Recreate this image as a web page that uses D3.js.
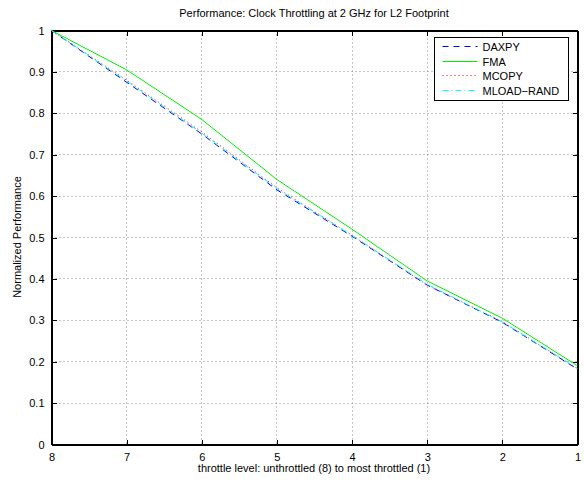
<!DOCTYPE html>
<html>
<head>
<meta charset="utf-8">
<script src="https://cdn.jsdelivr.net/npm/d3@7"></script>
<style>
body { margin: 0; background: #fff; }
text { font-family: "Liberation Sans", Arial, sans-serif; }
</style>
</head>
<body>
<div id="chart-area"></div>
<script>
var levels = [8, 7, 6, 5, 4, 3, 2, 1];
var daxpy = [1, 0.875, 0.75, 0.615, 0.503, 0.385, 0.295, 0.182];
var fma = [1, 0.905, 0.785, 0.64, 0.52, 0.395, 0.305, 0.19];
var mcopy = [1, 0.88, 0.755, 0.62, 0.505, 0.385, 0.297, 0.183];
var mloadRand = [1, 0.878, 0.752, 0.618, 0.505, 0.387, 0.296, 0.184];
var yTicks = [0, 0.1, 0.2, 0.3, 0.4, 0.5, 0.6, 0.7, 0.8, 0.9, 1];

var series = [
    { name: "DAXPY", values: daxpy, color: "#0000ff", dash: "6,5" },
    { name: "FMA", values: fma, color: "#00ee00", dash: null },
    { name: "MCOPY", values: mcopy, color: "#ff0000", dash: "1,3" },
    { name: "MLOAD\u2212RAND", values: mloadRand, color: "#00ffff", dash: "6,3,1,3" }
];

var margin = { top: 30, right: 7, bottom: 39, left: 51 };
var width = 584 - margin.left - margin.right;
var height = 483 - margin.top - margin.bottom;

var svg = d3.select("#chart-area")
    .append("svg")
    .attr("width", 584)
    .attr("height", 483);

var g = svg.append("g")
    .attr("transform", "translate(" + (margin.left + 0.5) + "," + (margin.top + 0.5) + ")");

var x = d3.scaleLinear()
    .domain([8, 1])
    .range([0, width]);

var y = d3.scaleLinear()
    .domain([0, 1])
    .range([height, 0]);

function rx(d) { return Math.round(x(d)); }
function ry(d) { return Math.round(y(d)); }

// grid
g.append("g")
    .selectAll("line")
    .data(levels.slice(1, -1))
    .enter()
    .append("line")
    .attr("x1", rx)
    .attr("x2", rx)
    .attr("y1", 0)
    .attr("y2", height)
    .attr("stroke", "#888")
    .attr("stroke-dasharray", "1,3");

g.append("g")
    .selectAll("line")
    .data(yTicks.slice(1, -1))
    .enter()
    .append("line")
    .attr("y1", ry)
    .attr("y2", ry)
    .attr("x1", 0)
    .attr("x2", width)
    .attr("stroke", "#888")
    .attr("stroke-dasharray", "1,3");

// axes
var xAxisCall = d3.axisBottom(x)
    .tickValues(levels)
    .tickSizeInner(-5)
    .tickSizeOuter(0)
    .tickPadding(9)
    .tickFormat(d3.format("d"));

var yAxisCall = d3.axisLeft(y)
    .tickValues(yTicks)
    .tickSizeInner(-5)
    .tickSizeOuter(0)
    .tickPadding(7)
    .tickFormat(function(d) { return d === 0 || d === 1 ? d : d.toFixed(1); });

g.append("g")
    .attr("transform", "translate(0," + height + ")")
    .call(xAxisCall);

g.append("g")
    .call(yAxisCall);

g.append("g")
    .call(d3.axisTop(x).tickValues(levels).tickSizeInner(-5).tickSizeOuter(0).tickFormat(""));

g.append("g")
    .attr("transform", "translate(" + width + ",0)")
    .call(d3.axisRight(y).tickValues(yTicks).tickSizeInner(-5).tickSizeOuter(0).tickFormat(""));

g.selectAll(".domain").attr("stroke", "#000").attr("shape-rendering", "crispEdges");
g.selectAll(".tick line").attr("stroke", "#000").attr("shape-rendering", "crispEdges");
g.selectAll(".tick text")
    .attr("font-size", "11px")
    .attr("font-family", "Liberation Sans, Arial, sans-serif")
    .attr("fill", "#000");

g.append("rect")
    .attr("width", width)
    .attr("height", height)
    .attr("fill", "none")
    .attr("stroke", "#000")
    .attr("shape-rendering", "crispEdges");

// lines
var line = d3.line()
    .x(function(d, i) { return x(levels[i]); })
    .y(function(d) { return y(d); });

g.selectAll(".series")
    .data(series)
    .enter()
    .append("path")
    .attr("class", "series")
    .attr("d", function(d) { return line(d.values); })
    .attr("fill", "none")
    .attr("stroke", function(d) { return d.color; })
    .attr("stroke-width", 1)
    .attr("stroke-dasharray", function(d) { return d.dash; });

// labels
svg.append("text")
    .attr("x", margin.left + width / 2)
    .attr("y", 17)
    .attr("text-anchor", "middle")
    .attr("font-size", "11px")
    .text("Performance: Clock Throttling at 2 GHz for L2 Footprint");

svg.append("text")
    .attr("x", margin.left + width / 2)
    .attr("y", 472)
    .attr("text-anchor", "middle")
    .attr("font-size", "11px")
    .text("throttle level: unthrottled (8) to most throttled (1)");

svg.append("text")
    .attr("transform", "rotate(-90)")
    .attr("x", -(margin.top + height / 2))
    .attr("y", 21)
    .attr("text-anchor", "middle")
    .attr("font-size", "11px")
    .text("Normalized Performance");

// legend
var legendGroup = svg.append("g")
    .attr("transform", "translate(434.5,37.5)");

legendGroup.append("rect")
    .attr("width", 134)
    .attr("height", 63)
    .attr("fill", "#fff")
    .attr("stroke", "#000");

var entries = legendGroup.selectAll(".entry")
    .data(series)
    .enter()
    .append("g")
    .attr("transform", function(d, i) { return "translate(0," + Math.round(9 + i * 14.7) + ")"; });

entries.append("line")
    .attr("x1", 8)
    .attr("x2", 43)
    .attr("stroke", function(d) { return d.color; })
    .attr("stroke-dasharray", function(d) { return d.dash; });

entries.append("text")
    .attr("x", 48)
    .attr("y", 4)
    .attr("font-size", "11px")
    .text(function(d) { return d.name; });
</script>
</body>
</html>
